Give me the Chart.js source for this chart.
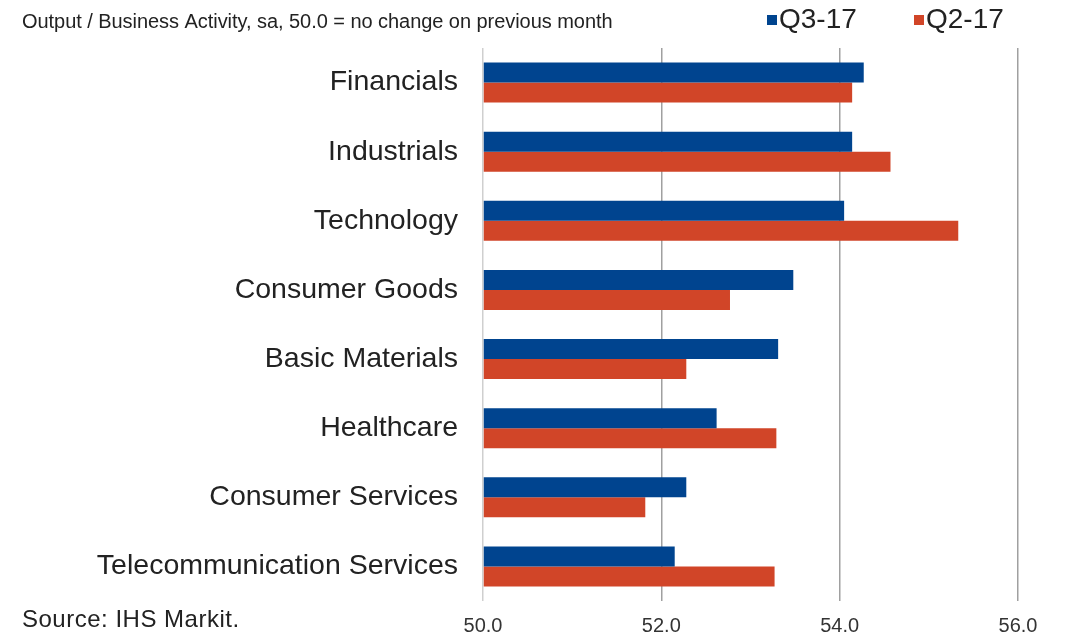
<!DOCTYPE html>
<html>
<head>
<meta charset="utf-8">
<script src="https://cdn.jsdelivr.net/npm/chart.js@4"></script>
<style>
    html, body { margin: 0; padding: 0; background: #fff; }
    #wrap { width: 1065px; height: 638px; position: relative; }
</style>
</head>
<body>
<div id="wrap"><canvas id="pmiChart"></canvas></div>
<script>
// Sector PMI - Output / Business Activity
const sectors = ['Financials', 'Industrials', 'Technology', 'Consumer Goods', 'Basic Materials', 'Healthcare', 'Consumer Services', 'Telecommunication Services'];
const q3Values = [54.27, 54.14, 54.05, 53.48, 53.31, 52.62, 52.28, 52.15];
const q2Values = [54.14, 54.57, 55.33, 52.77, 52.28, 53.29, 51.82, 53.27];
const xTicks = [50, 52, 54, 56];

const FONT = "'Liberation Sans', Arial, sans-serif";

// title, legend and source note drawn on top of the chart
const textPlugin = {
    id: 'textPlugin',
    afterDraw(chart) {
        const ctx = chart.ctx;
        ctx.save();
        ctx.fillStyle = '#222';
        ctx.textBaseline = 'middle';
        ctx.textAlign = 'left';
        ctx.font = `20px ${FONT}`;
        ctx.letterSpacing = '-0.05px';
        ctx.fillText('Output / Business Activity, sa, 50.0 = no change on previous month', 22, 22);

        ctx.font = `24px ${FONT}`;
        ctx.letterSpacing = '0.5px';
        ctx.fillText('Source: IHS Markit.', 22, 620);

        // legend
        const legendX = [767, 914];
        ctx.font = `28px ${FONT}`;
        ctx.letterSpacing = '0px';
        chart.data.datasets.forEach((ds, i) => {
            ctx.fillStyle = ds.backgroundColor;
            ctx.fillRect(legendX[i], 15, 10, 10);
            ctx.fillStyle = '#222';
            ctx.fillText(ds.label, legendX[i] + 12, 20);
        });
        ctx.restore();
    }
};

new Chart(document.getElementById('pmiChart'), {
    type: 'bar',
    data: {
        labels: sectors,
        datasets: [
            { label: 'Q3-17', data: q3Values, backgroundColor: '#00448f' },
            { label: 'Q2-17', data: q2Values, backgroundColor: '#d14528' }
        ]
    },
    options: {
        indexAxis: 'y',
        responsive: true,
        maintainAspectRatio: false,
        animation: false,
        layout: { padding: { top: 48, right: 47, bottom: 0, left: 0 } },
        datasets: {
            bar: { categoryPercentage: 0.58, barPercentage: 1.0, base: 50 }
        },
        plugins: {
            legend: { display: false },
            tooltip: { enabled: false }
        },
        scales: {
            x: {
                min: 50,
                max: 56,
                afterBuildTicks: axis => { axis.ticks = xTicks.map(v => ({ value: v })); },
                afterFit: axis => { axis.height = 37; },
                grid: {
                    color: ctx => ctx.tick && ctx.tick.value === 50 ? '#cfcfcf' : '#a0a0a0',
                    lineWidth: 1.5,
                    drawTicks: false
                },
                border: { display: false },
                ticks: {
                    color: '#333',
                    font: { family: FONT, size: 20 },
                    padding: 13,
                    callback: value => Number(value).toFixed(1)
                }
            },
            y: {
                afterFit: axis => {
                    axis.width = 483;
                    axis.paddingTop = 0;
                    axis.paddingBottom = 0;
                },
                grid: { display: false, drawTicks: false },
                border: { display: false },
                ticks: {
                    color: '#222',
                    font: { family: FONT, size: 28.5 },
                    padding: 25
                }
            }
        }
    },
    plugins: [textPlugin]
});
</script>
</body>
</html>
